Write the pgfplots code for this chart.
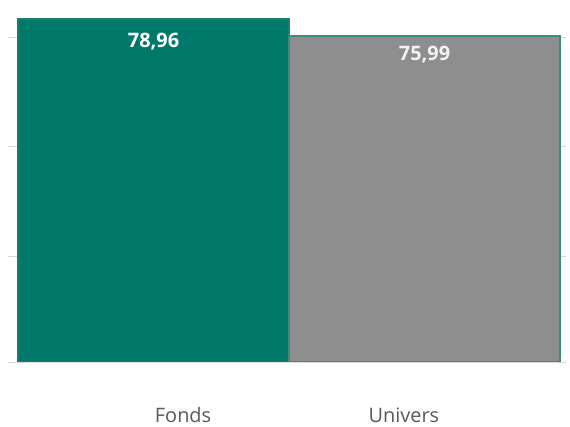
\documentclass[border=0pt]{standalone}
\usepackage{pgfplots}
\pgfplotsset{compat=1.18}
\usepackage{fontspec}
\setmainfont{Open Sans}
\definecolor{fondsteal}{HTML}{00796B}
\definecolor{fondsedge}{HTML}{1E7D70}
\definecolor{univgray}{HTML}{8E8E8E}
\definecolor{univedge}{HTML}{3A8C7E}
\definecolor{ticktext}{HTML}{595959}
\begin{document}
\begin{tikzpicture}
\path[use as bounding box, fill=white] (0,0) rectangle (570bp,427bp);
\begin{axis}[
  at={(8bp,65bp)}, anchor=south west,
  scale only axis, width=558bp, height=362bp,
  xmin=-0.537, xmax=1.522, ymin=19, ymax=82.29,
  ybar, bar width=1, bar shift=0pt,
  axis line style={draw=none},
  major tick length=0pt,
  /pgf/number format/assume math mode=true,
  ytick={19,37.53,56.59,75.82}, yticklabels={},
  ymajorgrids, grid style={draw=black!15, line width=1pt},
  xtick={0.109,0.924}, xticklabels={Fonds,Univers},
  xticklabel style={anchor=center, yshift=-53bp, text=ticktext, font=\fontsize{20}{24}\selectfont},
]
\addplot[fill=fondsteal, draw=fondsedge, line width=1.2pt,
  nodes near coords={\pgfmathprintnumber[use comma,fixed,fixed zerofill,precision=2,assume math mode=true]{\pgfplotspointmeta}},
  every node near coord/.append style={anchor=center, yshift=-23bp, text=white, font=\bfseries\fontsize{20}{24}\selectfont}]
  coordinates {(0,78.96)};
\addplot[fill=univgray, draw=univedge, line width=1.5pt,
  nodes near coords={\pgfmathprintnumber[use comma,fixed,fixed zerofill,precision=2,assume math mode=true]{\pgfplotspointmeta}},
  every node near coord/.append style={anchor=center, yshift=-19bp, text=black!5, font=\bfseries\fontsize{20}{24}\selectfont}]
  coordinates {(1,75.99)};
\end{axis}
\end{tikzpicture}
\end{document}
